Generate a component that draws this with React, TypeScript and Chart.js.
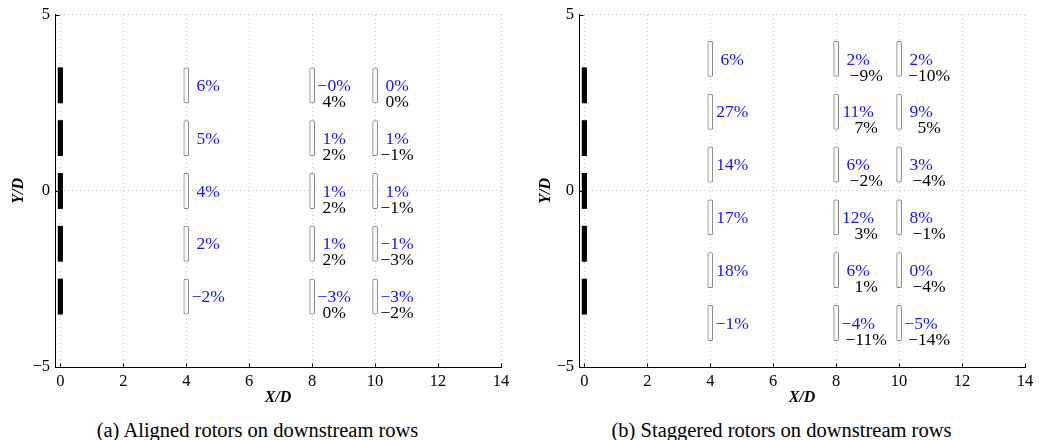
import React, { useEffect, useRef } from 'react';
import { Chart, registerables } from 'chart.js';

Chart.register(...registerables);

// Axis ticks shared by both panels
const xTicks = [0, 2, 4, 6, 8, 10, 12, 14];
const yTicks = [-5, 0, 5];

// Rotor layout (units of rotor diameter D)
const rotorDiameter = 1;
const frontRowX = 0;
const downstreamX = [4, 8, 10];
const alignedRowY = [3, 1.5, 0, -1.5, -3];
const staggeredRowY = [3.75, 2.25, 0.75, -0.75, -2.25, -3.75];

// (a) aligned rotors: power change per rotor, listed top to bottom
const alignedX4Blue = ['6%', '5%', '4%', '2%', '−2%'];
const alignedX8Blue = ['−0%', '1%', '1%', '1%', '−3%'];
const alignedX8Black = ['4%', '2%', '2%', '2%', '0%'];
const alignedX10Blue = ['0%', '1%', '1%', '−1%', '−3%'];
const alignedX10Black = ['0%', '−1%', '−1%', '−3%', '−2%'];

// (b) staggered rotors
const staggeredX4Blue = ['6%', '27%', '14%', '17%', '18%', '−1%'];
const staggeredX8Blue = ['2%', '11%', '6%', '12%', '6%', '−4%'];
const staggeredX8Black = ['−9%', '7%', '−2%', '3%', '1%', '−11%'];
const staggeredX10Blue = ['2%', '9%', '3%', '8%', '0%', '−5%'];
const staggeredX10Black = ['−10%', '5%', '−4%', '−1%', '−4%', '−14%'];

const captionA = '(a) Aligned rotors on downstream rows';
const captionB = '(b) Staggered rotors on downstream rows';

const SERIF = '"Liberation Serif", "Times New Roman", serif';

type LabelColumn = { x: number; rows: number[]; blue: string[]; black?: string[] };

const rotorBar = (x: number, yc: number) => ({
  x,
  y: [yc - rotorDiameter / 2, yc + rotorDiameter / 2],
});

// Percent labels next to each downstream rotor
const rotorLabelPlugin = {
  id: 'rotorLabels',
  afterDatasetsDraw(chart: any, _args: any, opts: any) {
    const { ctx } = chart;
    const xs = chart.scales.x;
    const ys = chart.scales.y;
    const columns: LabelColumn[] = opts.columns || [];
    ctx.save();
    ctx.font = `17.5px ${SERIF}`;
    ctx.textAlign = 'center';
    ctx.textBaseline = 'middle';
    for (const col of columns) {
      const px = xs.getPixelForValue(col.x);
      col.rows.forEach((ry, i) => {
        const py = ys.getPixelForValue(ry);
        ctx.fillStyle = '#1414ff';
        ctx.fillText(col.blue[i], px + 22, py + 1);
        if (col.black) {
          ctx.fillStyle = '#000';
          ctx.fillText(col.black[i], px + opts.blackDx, py + 17);
        }
      });
    }
    ctx.restore();
  },
};

// Short inward-pointing tick marks on the left and bottom axes
const inwardTickPlugin = {
  id: 'inwardTicks',
  afterDraw(chart: any) {
    const { ctx, chartArea } = chart;
    const xs = chart.scales.x;
    const ys = chart.scales.y;
    ctx.save();
    ctx.strokeStyle = '#000';
    ctx.lineWidth = 1;
    ctx.beginPath();
    const b = Math.round(chartArea.bottom) + 0.5;
    const l = Math.round(chartArea.left) + 0.5;
    xTicks.forEach((v) => {
      const px = Math.round(xs.getPixelForValue(v)) + 0.5;
      ctx.moveTo(px, b);
      ctx.lineTo(px, b - 4);
    });
    yTicks.forEach((v) => {
      const py = Math.round(ys.getPixelForValue(v)) + 0.5;
      ctx.moveTo(l, py);
      ctx.lineTo(l + 4, py);
    });
    ctx.stroke();
    ctx.restore();
  },
};

const fmtTick = (v: number) => (v < 0 ? '−' + Math.abs(v) : String(v));

function buildConfig(rowsDownstream: number[], columns: LabelColumn[], blackDx: number, yTitlePad: number) {
  const front = alignedRowY.map((yc) => rotorBar(frontRowX, yc));
  const downstream = downstreamX.flatMap((x) => rowsDownstream.map((yc) => rotorBar(x, yc)));
  const gridCommon = {
    color: '#c4c4c4',
    lineWidth: 1,
    drawTicks: false,
    offset: false,
  };
  return {
    type: 'bar' as const,
    data: {
      datasets: [
        {
          label: 'Front row',
          data: front,
          backgroundColor: '#000',
          borderWidth: 0,
          barThickness: 4.5,
          grouped: false,
        },
        {
          label: 'Downstream rows',
          data: downstream,
          backgroundColor: '#fbfbfb',
          borderColor: '#858585',
          borderWidth: 1,
          borderSkipped: false,
          borderRadius: 1.5,
          barThickness: 5,
          grouped: false,
        },
      ],
    },
    options: {
      animation: false,
      responsive: false,
      events: [],
      layout: { padding: { left: 0, right: 14, top: 14, bottom: 0 } },
      plugins: {
        legend: { display: false },
        tooltip: { enabled: false },
        rotorLabels: { columns, blackDx },
      },
      scales: {
        x: {
          type: 'linear',
          min: -0.17,
          max: 14,
          offset: false,
          afterBuildTicks: (s: any) => {
            s.ticks = xTicks.map((value) => ({ value }));
          },
          afterFit: (s: any) => {
            s.height = 43;
          },
          grid: gridCommon,
          border: { display: true, color: '#000', width: 1, dash: [1, 3] },
          ticks: {
            padding: 5,
            color: '#000',
            font: { family: SERIF, size: 16.5 },
            callback: (v: any) => fmtTick(Number(v)),
            maxRotation: 0,
          },
          title: {
            display: true,
            text: 'X/D',
            color: '#000',
            font: { family: SERIF, size: 16, style: 'italic', weight: 'bold' },
            padding: { top: 0, bottom: 3 },
          },
        },
        y: {
          type: 'linear',
          min: -5,
          max: 5,
          afterBuildTicks: (s: any) => {
            s.ticks = yTicks.map((value) => ({ value }));
          },
          afterFit: (s: any) => {
            s.width = 55;
          },
          grid: gridCommon,
          border: { display: true, color: '#000', width: 1, dash: [1, 3] },
          ticks: {
            padding: 5,
            color: '#000',
            font: { family: SERIF, size: 16.5 },
            callback: (v: any) => fmtTick(Number(v)),
          },
          title: {
            display: true,
            text: 'Y/D',
            color: '#000',
            font: { family: SERIF, size: 16, style: 'italic', weight: 'bold' },
            padding: { top: yTitlePad, bottom: 0 },
          },
        },
      },
    },
    plugins: [rotorLabelPlugin, inwardTickPlugin],
  };
}

export default function App() {
  const leftRef = useRef<HTMLCanvasElement | null>(null);
  const rightRef = useRef<HTMLCanvasElement | null>(null);

  useEffect(() => {
    const alignedCols: LabelColumn[] = [
      { x: downstreamX[0], rows: alignedRowY, blue: alignedX4Blue },
      { x: downstreamX[1], rows: alignedRowY, blue: alignedX8Blue, black: alignedX8Black },
      { x: downstreamX[2], rows: alignedRowY, blue: alignedX10Blue, black: alignedX10Black },
    ];
    const staggeredCols: LabelColumn[] = [
      { x: downstreamX[0], rows: staggeredRowY, blue: staggeredX4Blue },
      { x: downstreamX[1], rows: staggeredRowY, blue: staggeredX8Blue, black: staggeredX8Black },
      { x: downstreamX[2], rows: staggeredRowY, blue: staggeredX10Blue, black: staggeredX10Black },
    ];
    const left = new Chart(leftRef.current as HTMLCanvasElement, buildConfig(alignedRowY, alignedCols, 22, 9) as any);
    const right = new Chart(rightRef.current as HTMLCanvasElement, buildConfig(staggeredRowY, staggeredCols, 30, 12) as any);
    return () => {
      left.destroy();
      right.destroy();
    };
  }, []);

  const captionStyle: React.CSSProperties = {
    position: 'absolute',
    top: 418,
    width: 515,
    textAlign: 'center',
    fontFamily: SERIF,
    fontSize: 20.5,
    lineHeight: '24px',
    color: '#000',
    whiteSpace: 'nowrap',
  };

  return (
    <div style={{ position: 'absolute', left: 0, top: 0, width: 1039, height: 440, background: '#fff', overflow: 'hidden' }}>
      <canvas ref={leftRef} width={515} height={410} style={{ position: 'absolute', left: 0, top: 0 }} />
      <canvas ref={rightRef} width={515} height={410} style={{ position: 'absolute', left: 524, top: 0 }} />
      <div style={{ ...captionStyle, left: 0 }}>{captionA}</div>
      <div style={{ ...captionStyle, left: 524 }}>{captionB}</div>
    </div>
  );
}
